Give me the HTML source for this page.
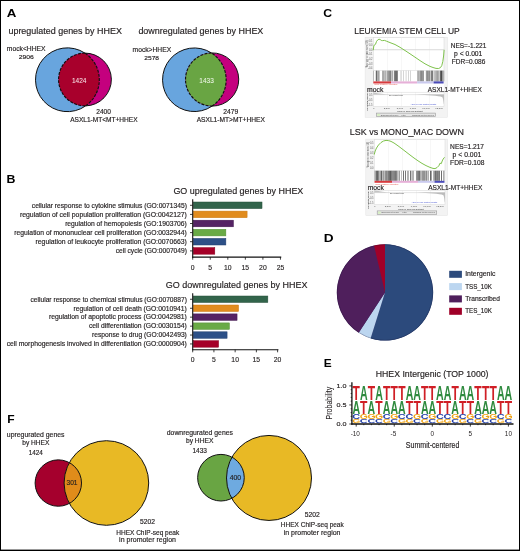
<!DOCTYPE html>
<html><head><meta charset="utf-8"><style>
html,body{margin:0;padding:0;background:#fff;}
#fig{position:relative;width:520px;height:551px;overflow:hidden;background:#fff;}
#fig svg{position:absolute;left:0;top:0;}
#fig text{font-family:"Liberation Sans", sans-serif;}
#fig svg{will-change:transform;}
</style></head><body><div id="fig">
<svg width="520" height="551" viewBox="0 0 520 551">
<rect x="0" y="0" width="520" height="551" fill="#fff"/>
<text x="6.84" y="16.70" font-size="11.5" font-weight="bold" fill="#000" textLength="9.62" lengthAdjust="spacingAndGlyphs" >A</text>
<text x="6.54" y="183.00" font-size="11.5" font-weight="bold" fill="#000" textLength="8.92" lengthAdjust="spacingAndGlyphs" >B</text>
<text x="323.34" y="17.30" font-size="11.5" font-weight="bold" fill="#000" textLength="8.82" lengthAdjust="spacingAndGlyphs" >C</text>
<text x="323.74" y="241.50" font-size="11.5" font-weight="bold" fill="#000" textLength="9.82" lengthAdjust="spacingAndGlyphs" >D</text>
<text x="323.74" y="366.90" font-size="11.5" font-weight="bold" fill="#000" textLength="7.92" lengthAdjust="spacingAndGlyphs" >E</text>
<text x="7.19" y="422.80" font-size="11.5" font-weight="bold" fill="#000" textLength="7.37" lengthAdjust="spacingAndGlyphs" >F</text>
<text x="8.44" y="33.90" font-size="9" font-weight="normal" fill="#231f20" textLength="113.42" lengthAdjust="spacingAndGlyphs"  stroke="#231f20" stroke-width="0.16">upregulated genes by HHEX</text>
<text x="138.39" y="33.80" font-size="9" font-weight="normal" fill="#231f20" textLength="124.97" lengthAdjust="spacingAndGlyphs"  stroke="#231f20" stroke-width="0.16">downregulated genes by HHEX</text>
<circle cx="67.4" cy="79.75" r="31.9" fill="#68a5de"/>
<circle cx="84.9" cy="79.5" r="26.4" fill="#c4007e"/>
<path d="M84.93,53.10 A26.4,26.4 0 1 0 85.69,105.89 A31.9,31.9 0 0 0 84.93,53.10 Z" fill="#a8002c"/>
<path d="M84.93,53.10 A31.9,31.9 0 1 0 85.69,105.89" fill="none" stroke="#111" stroke-width="1.0"/>
<path d="M85.69,105.89 A26.4,26.4 0 0 0 84.93,53.10" fill="none" stroke="#111" stroke-width="1.0"/>
<path d="M84.93,53.10 A26.4,26.4 0 1 0 85.69,105.89" fill="none" stroke="#111" stroke-dasharray="2.9,1.3" stroke-width="1.15"/>
<path d="M85.69,105.89 A31.9,31.9 0 0 0 84.93,53.10" fill="none" stroke="#111" stroke-dasharray="2.9,1.3" stroke-width="1.15"/>
<circle cx="194.35" cy="79.75" r="31.8" fill="#68a5de"/>
<circle cx="212.1" cy="79.5" r="26.6" fill="#c4007e"/>
<path d="M211.40,52.91 A26.6,26.6 0 0 0 212.15,106.10 A31.8,31.8 0 0 0 211.40,52.91 Z" fill="#69a543"/>
<path d="M211.40,52.91 A31.8,31.8 0 1 0 212.15,106.10" fill="none" stroke="#111" stroke-width="1.0"/>
<path d="M212.15,106.10 A26.6,26.6 0 1 0 211.40,52.91" fill="none" stroke="#111" stroke-width="1.0"/>
<path d="M211.40,52.91 A26.6,26.6 0 0 0 212.15,106.10" fill="none" stroke="#111" stroke-dasharray="2.9,1.3" stroke-width="1.15"/>
<path d="M212.15,106.10 A31.8,31.8 0 0 0 211.40,52.91" fill="none" stroke="#111" stroke-dasharray="2.9,1.3" stroke-width="1.15"/>
<text x="6.84" y="50.85" font-size="6.4" font-weight="normal" fill="#231f20" textLength="38.71" lengthAdjust="spacingAndGlyphs"  stroke="#231f20" stroke-width="0.16">mock&lt;HHEX</text>
<text x="18.65" y="58.60" font-size="6.2" font-weight="normal" fill="#231f20" textLength="15.00" lengthAdjust="spacingAndGlyphs"  stroke="#231f20" stroke-width="0.16">2906</text>
<text x="132.64" y="51.90" font-size="6.4" font-weight="normal" fill="#231f20" textLength="38.51" lengthAdjust="spacingAndGlyphs"  stroke="#231f20" stroke-width="0.16">mock&gt;HHEX</text>
<text x="144.35" y="60.10" font-size="6.2" font-weight="normal" fill="#231f20" textLength="14.70" lengthAdjust="spacingAndGlyphs"  stroke="#231f20" stroke-width="0.16">2578</text>
<text x="71.93" y="82.70" font-size="6.8" font-weight="normal" fill="#f6dfe4" textLength="14.54" lengthAdjust="spacingAndGlyphs"  stroke="#f6dfe4" stroke-width="0.05">1424</text>
<text x="199.33" y="82.80" font-size="6.8" font-weight="normal" fill="#eef6e8" textLength="14.44" lengthAdjust="spacingAndGlyphs"  stroke="#eef6e8" stroke-width="0.05">1433</text>
<text x="96.25" y="113.80" font-size="6.3" font-weight="normal" fill="#231f20" textLength="14.70" lengthAdjust="spacingAndGlyphs"  stroke="#231f20" stroke-width="0.16">2400</text>
<text x="70.15" y="121.90" font-size="6.3" font-weight="normal" fill="#231f20" textLength="67.40" lengthAdjust="spacingAndGlyphs"  stroke="#231f20" stroke-width="0.16">ASXL1-MT&lt;MT+HHEX</text>
<text x="223.25" y="113.80" font-size="6.3" font-weight="normal" fill="#231f20" textLength="15.00" lengthAdjust="spacingAndGlyphs"  stroke="#231f20" stroke-width="0.16">2479</text>
<text x="196.65" y="121.80" font-size="6.3" font-weight="normal" fill="#231f20" textLength="68.20" lengthAdjust="spacingAndGlyphs"  stroke="#231f20" stroke-width="0.16">ASXL1-MT&gt;MT+HHEX</text>
<text x="173.39" y="193.90" font-size="9" font-weight="normal" fill="#231f20" textLength="129.97" lengthAdjust="spacingAndGlyphs"  stroke="#231f20" stroke-width="0.16">GO upregulated genes by HHEX</text>
<text x="31.83" y="207.55" font-size="6.8" font-weight="normal" fill="#231f20" textLength="155.04" lengthAdjust="spacingAndGlyphs"  stroke="#231f20" stroke-width="0.16">cellular response to cytokine stimulus (GO:0071345)</text>
<rect x="193.20" y="202.00" width="68.82" height="6.6" fill="#32644b" stroke="#264f3a" stroke-width="0.5"/>
<line x1="190.00" x2="192.70" y1="205.30" y2="205.30" stroke="#111" stroke-width="0.8"/>
<text x="19.93" y="216.65" font-size="6.8" font-weight="normal" fill="#231f20" textLength="166.94" lengthAdjust="spacingAndGlyphs"  stroke="#231f20" stroke-width="0.16">regulation of cell population proliferation (GO:0042127)</text>
<rect x="193.20" y="211.10" width="53.90" height="6.6" fill="#e18c1e" stroke="#c97a14" stroke-width="0.5"/>
<line x1="190.00" x2="192.70" y1="214.40" y2="214.40" stroke="#111" stroke-width="0.8"/>
<text x="65.13" y="225.75" font-size="6.8" font-weight="normal" fill="#231f20" textLength="121.74" lengthAdjust="spacingAndGlyphs"  stroke="#231f20" stroke-width="0.16">regulation of hemopoiesis (GO:1903706)</text>
<rect x="193.20" y="220.20" width="40.22" height="6.6" fill="#552364" stroke="#43184f" stroke-width="0.5"/>
<line x1="190.00" x2="192.70" y1="223.50" y2="223.50" stroke="#111" stroke-width="0.8"/>
<text x="14.33" y="234.85" font-size="6.8" font-weight="normal" fill="#231f20" textLength="172.54" lengthAdjust="spacingAndGlyphs"  stroke="#231f20" stroke-width="0.16">regulation of mononuclear cell proliferation (GO:0032944)</text>
<rect x="193.20" y="229.30" width="32.67" height="6.6" fill="#69aa46" stroke="#558f36" stroke-width="0.5"/>
<line x1="190.00" x2="192.70" y1="232.60" y2="232.60" stroke="#111" stroke-width="0.8"/>
<text x="35.53" y="243.95" font-size="6.8" font-weight="normal" fill="#231f20" textLength="151.34" lengthAdjust="spacingAndGlyphs"  stroke="#231f20" stroke-width="0.16">regulation of leukocyte proliferation (GO:0070663)</text>
<rect x="193.20" y="238.40" width="32.67" height="6.6" fill="#2d5087" stroke="#223f6e" stroke-width="0.5"/>
<line x1="190.00" x2="192.70" y1="241.70" y2="241.70" stroke="#111" stroke-width="0.8"/>
<text x="115.73" y="253.15" font-size="6.8" font-weight="normal" fill="#231f20" textLength="71.14" lengthAdjust="spacingAndGlyphs"  stroke="#231f20" stroke-width="0.16">cell cycle (GO:0007049)</text>
<rect x="193.20" y="247.60" width="21.61" height="6.6" fill="#a50028" stroke="#8a0020" stroke-width="0.5"/>
<line x1="190.00" x2="192.70" y1="250.90" y2="250.90" stroke="#111" stroke-width="0.8"/>
<line x1="192.70" x2="192.70" y1="199.20" y2="257.70" stroke="#111" stroke-width="1.1"/>
<line x1="192.20" x2="281.25" y1="257.10" y2="257.10" stroke="#111" stroke-width="1.1"/>
<line x1="192.70" x2="192.70" y1="257.10" y2="259.70" stroke="#111" stroke-width="0.8"/>
<text x="192.70" y="269.60" font-size="6.8" fill="#231f20" stroke="#231f20" stroke-width="0.14" text-anchor="middle">0</text>
<line x1="210.25" x2="210.25" y1="257.10" y2="259.70" stroke="#111" stroke-width="0.8"/>
<text x="210.25" y="269.60" font-size="6.8" fill="#231f20" stroke="#231f20" stroke-width="0.14" text-anchor="middle">5</text>
<line x1="227.80" x2="227.80" y1="257.10" y2="259.70" stroke="#111" stroke-width="0.8"/>
<text x="227.80" y="269.60" font-size="6.8" fill="#231f20" stroke="#231f20" stroke-width="0.14" text-anchor="middle">10</text>
<line x1="245.35" x2="245.35" y1="257.10" y2="259.70" stroke="#111" stroke-width="0.8"/>
<text x="245.35" y="269.60" font-size="6.8" fill="#231f20" stroke="#231f20" stroke-width="0.14" text-anchor="middle">15</text>
<line x1="262.90" x2="262.90" y1="257.10" y2="259.70" stroke="#111" stroke-width="0.8"/>
<text x="262.90" y="269.60" font-size="6.8" fill="#231f20" stroke="#231f20" stroke-width="0.14" text-anchor="middle">20</text>
<line x1="280.45" x2="280.45" y1="257.10" y2="259.70" stroke="#111" stroke-width="0.8"/>
<text x="280.45" y="269.60" font-size="6.8" fill="#231f20" stroke="#231f20" stroke-width="0.14" text-anchor="middle">25</text>
<text x="165.69" y="288.05" font-size="9" font-weight="normal" fill="#231f20" textLength="141.87" lengthAdjust="spacingAndGlyphs"  stroke="#231f20" stroke-width="0.16">GO downregulated genes by HHEX</text>
<text x="30.53" y="301.50" font-size="6.8" font-weight="normal" fill="#231f20" textLength="156.34" lengthAdjust="spacingAndGlyphs"  stroke="#231f20" stroke-width="0.16">cellular response to chemical stimulus (GO:0070887)</text>
<rect x="193.20" y="296.00" width="74.64" height="6.5" fill="#32644b" stroke="#264f3a" stroke-width="0.5"/>
<line x1="190.00" x2="192.70" y1="299.25" y2="299.25" stroke="#111" stroke-width="0.8"/>
<text x="73.53" y="310.50" font-size="6.8" font-weight="normal" fill="#231f20" textLength="113.34" lengthAdjust="spacingAndGlyphs"  stroke="#231f20" stroke-width="0.16">regulation of cell death (GO:0010941)</text>
<rect x="193.20" y="305.00" width="45.35" height="6.5" fill="#e18c1e" stroke="#c97a14" stroke-width="0.5"/>
<line x1="190.00" x2="192.70" y1="308.25" y2="308.25" stroke="#111" stroke-width="0.8"/>
<text x="48.93" y="319.40" font-size="6.8" font-weight="normal" fill="#231f20" textLength="137.94" lengthAdjust="spacingAndGlyphs"  stroke="#231f20" stroke-width="0.16">regulation of apoptotic process (GO:0042981)</text>
<rect x="193.20" y="313.90" width="43.86" height="6.5" fill="#552364" stroke="#43184f" stroke-width="0.5"/>
<line x1="190.00" x2="192.70" y1="317.15" y2="317.15" stroke="#111" stroke-width="0.8"/>
<text x="88.93" y="328.40" font-size="6.8" font-weight="normal" fill="#231f20" textLength="97.94" lengthAdjust="spacingAndGlyphs"  stroke="#231f20" stroke-width="0.16">cell differentiation (GO:0030154)</text>
<rect x="193.20" y="322.90" width="36.22" height="6.5" fill="#69aa46" stroke="#558f36" stroke-width="0.5"/>
<line x1="190.00" x2="192.70" y1="326.15" y2="326.15" stroke="#111" stroke-width="0.8"/>
<text x="92.03" y="337.30" font-size="6.8" font-weight="normal" fill="#231f20" textLength="94.84" lengthAdjust="spacingAndGlyphs"  stroke="#231f20" stroke-width="0.16">response to drug (GO:0042493)</text>
<rect x="193.20" y="331.80" width="33.88" height="6.5" fill="#2d5087" stroke="#223f6e" stroke-width="0.5"/>
<line x1="190.00" x2="192.70" y1="335.05" y2="335.05" stroke="#111" stroke-width="0.8"/>
<text x="6.63" y="346.20" font-size="6.8" font-weight="normal" fill="#231f20" textLength="180.24" lengthAdjust="spacingAndGlyphs"  stroke="#231f20" stroke-width="0.16">cell morphogenesis involved in differentiation (GO:0000904)</text>
<rect x="193.20" y="340.70" width="25.39" height="6.5" fill="#a50028" stroke="#8a0020" stroke-width="0.5"/>
<line x1="190.00" x2="192.70" y1="343.95" y2="343.95" stroke="#111" stroke-width="0.8"/>
<line x1="192.70" x2="192.70" y1="293.20" y2="350.30" stroke="#111" stroke-width="1.1"/>
<line x1="192.20" x2="278.40" y1="349.70" y2="349.70" stroke="#111" stroke-width="1.1"/>
<line x1="192.70" x2="192.70" y1="349.70" y2="352.30" stroke="#111" stroke-width="0.8"/>
<text x="192.70" y="362.20" font-size="6.8" fill="#231f20" stroke="#231f20" stroke-width="0.14" text-anchor="middle">0</text>
<line x1="213.92" x2="213.92" y1="349.70" y2="352.30" stroke="#111" stroke-width="0.8"/>
<text x="213.92" y="362.20" font-size="6.8" fill="#231f20" stroke="#231f20" stroke-width="0.14" text-anchor="middle">5</text>
<line x1="235.15" x2="235.15" y1="349.70" y2="352.30" stroke="#111" stroke-width="0.8"/>
<text x="235.15" y="362.20" font-size="6.8" fill="#231f20" stroke="#231f20" stroke-width="0.14" text-anchor="middle">10</text>
<line x1="256.38" x2="256.38" y1="349.70" y2="352.30" stroke="#111" stroke-width="0.8"/>
<text x="256.38" y="362.20" font-size="6.8" fill="#231f20" stroke="#231f20" stroke-width="0.14" text-anchor="middle">15</text>
<line x1="277.60" x2="277.60" y1="349.70" y2="352.30" stroke="#111" stroke-width="0.8"/>
<text x="277.60" y="362.20" font-size="6.8" fill="#231f20" stroke="#231f20" stroke-width="0.14" text-anchor="middle">20</text>
<circle cx="385" cy="292.45" r="47.85" fill="#3a2f6a"/>
<path d="M385,292.45 L385.00,244.30 A48.15,48.15 0 1 1 370.60,338.40 Z" fill="#2c4a7c"/>
<path d="M385,292.45 L370.60,338.40 A48.15,48.15 0 0 1 358.71,332.79 Z" fill="#bcd6f0"/>
<path d="M385,292.45 L358.71,332.79 A48.15,48.15 0 0 1 373.96,245.58 Z" fill="#4f1f5c"/>
<path d="M385,292.45 L373.96,245.58 A48.15,48.15 0 0 1 385.00,244.30 Z" fill="#a00028"/>
<circle cx="385" cy="292.45" r="47.85" fill="none" stroke="rgba(10,10,40,0.35)" stroke-width="0.6"/>
<rect x="449.2" y="270.8" width="12.7" height="7" fill="#2c4a7c"/>
<text x="465.23" y="276.30" font-size="6.8" font-weight="normal" fill="#231f20" textLength="30.14" lengthAdjust="spacingAndGlyphs"  stroke="#231f20" stroke-width="0.16">Intergenic</text>
<rect x="449.2" y="283.1" width="12.7" height="7" fill="#bcd6f0"/>
<text x="465.23" y="288.60" font-size="6.8" font-weight="normal" fill="#231f20" textLength="26.74" lengthAdjust="spacingAndGlyphs"  stroke="#231f20" stroke-width="0.16">TSS_10K</text>
<rect x="449.2" y="295.4" width="12.7" height="7" fill="#4f1f5c"/>
<text x="465.23" y="300.90" font-size="6.8" font-weight="normal" fill="#231f20" textLength="34.74" lengthAdjust="spacingAndGlyphs"  stroke="#231f20" stroke-width="0.16">Transcribed</text>
<rect x="449.2" y="307.8" width="12.7" height="7" fill="#a00028"/>
<text x="465.23" y="313.30" font-size="6.8" font-weight="normal" fill="#231f20" textLength="26.74" lengthAdjust="spacingAndGlyphs"  stroke="#231f20" stroke-width="0.16">TES_10K</text>
<text x="354.26" y="33.75" font-size="8.6" font-weight="normal" fill="#231f20" textLength="105.49" lengthAdjust="spacingAndGlyphs"  stroke="#231f20" stroke-width="0.16">LEUKEMIA STEM CELL UP</text>
<text x="349.86" y="134.70" font-size="8.6" font-weight="normal" fill="#231f20" textLength="114.09" lengthAdjust="spacingAndGlyphs"  stroke="#231f20" stroke-width="0.16">LSK vs MONO_MAC DOWN</text>
<text x="450.74" y="47.80" font-size="6.6" font-weight="normal" fill="#231f20" textLength="35.63" lengthAdjust="spacingAndGlyphs"  stroke="#231f20" stroke-width="0.16">NES=-1.221</text>
<text x="454.14" y="55.90" font-size="6.6" font-weight="normal" fill="#231f20" textLength="28.23" lengthAdjust="spacingAndGlyphs"  stroke="#231f20" stroke-width="0.16">p &lt; 0.001</text>
<text x="451.84" y="63.60" font-size="6.6" font-weight="normal" fill="#231f20" textLength="33.43" lengthAdjust="spacingAndGlyphs"  stroke="#231f20" stroke-width="0.16">FDR=0.086</text>
<text x="450.14" y="149.40" font-size="6.6" font-weight="normal" fill="#231f20" textLength="33.93" lengthAdjust="spacingAndGlyphs"  stroke="#231f20" stroke-width="0.16">NES=1.217</text>
<text x="452.64" y="157.30" font-size="6.6" font-weight="normal" fill="#231f20" textLength="28.63" lengthAdjust="spacingAndGlyphs"  stroke="#231f20" stroke-width="0.16">p &lt; 0.001</text>
<text x="450.14" y="165.20" font-size="6.6" font-weight="normal" fill="#231f20" textLength="34.23" lengthAdjust="spacingAndGlyphs"  stroke="#231f20" stroke-width="0.16">FDR=0.108</text>
<rect x="365.1" y="37.2" width="82.29999999999995" height="80.1" fill="#f3f3f3" stroke="#e2e2e2" stroke-width="0.5"/>
<rect x="373.3" y="37.6" width="70.69999999999999" height="68.80000000000001" fill="#fff"/>
<rect x="373.3" y="37.6" width="70.69999999999999" height="33.1" fill="none" stroke="#d6d6d6" stroke-width="0.5"/>
<line x1="387.5" x2="387.5" y1="37.6" y2="70.7" stroke="#efefef" stroke-width="0.5"/>
<line x1="387.5" x2="387.5" y1="92.2" y2="106.4" stroke="#efefef" stroke-width="0.5"/>
<line x1="401.5" x2="401.5" y1="37.6" y2="70.7" stroke="#efefef" stroke-width="0.5"/>
<line x1="401.5" x2="401.5" y1="92.2" y2="106.4" stroke="#efefef" stroke-width="0.5"/>
<line x1="415.5" x2="415.5" y1="37.6" y2="70.7" stroke="#efefef" stroke-width="0.5"/>
<line x1="415.5" x2="415.5" y1="92.2" y2="106.4" stroke="#efefef" stroke-width="0.5"/>
<line x1="429.5" x2="429.5" y1="37.6" y2="70.7" stroke="#efefef" stroke-width="0.5"/>
<line x1="429.5" x2="429.5" y1="92.2" y2="106.4" stroke="#efefef" stroke-width="0.5"/>
<line x1="373.3" x2="444.0" y1="49.8" y2="49.8" stroke="#d9d9d9" stroke-width="1.1"/>
<text x="372.5" y="41.5" font-size="2.6" fill="#666" text-anchor="end">0.1</text>
<text x="372.5" y="46.1" font-size="2.6" fill="#666" text-anchor="end">0.0</text>
<text x="372.5" y="50.699999999999996" font-size="2.6" fill="#666" text-anchor="end">0.0</text>
<text x="372.5" y="55.3" font-size="2.6" fill="#666" text-anchor="end">-0.1</text>
<text x="372.5" y="59.9" font-size="2.6" fill="#666" text-anchor="end">-0.2</text>
<text x="372.5" y="64.5" font-size="2.6" fill="#666" text-anchor="end">-0.3</text>
<text x="372.5" y="69.10000000000001" font-size="2.6" fill="#666" text-anchor="end">-0.4</text>
<text transform="translate(368.0,67.70) rotate(-90)" font-size="2.7" fill="#333" textLength="27.10" lengthAdjust="spacingAndGlyphs">Running enrichment score (ES)</text>
<path d="M373.3,49.8 L373.8,46 L374.5,44.8 L375.5,44.3 L376.5,41.5 L377.8,39.8 L379,39.2 L380.2,39.5 L381.2,40.4 L382.5,40.6 L384.5,40.4 L386.5,41.2 L390,42.6 L395,44.5 L400,47.3 L405,50.5 L410,53.8 L415,57.2 L420,60.6 L425,63.8 L430,66.4 L433,67.5 L436,68.4 L438.5,68.5 L440.5,67.6 L441.8,65.5 L442.8,61.5 L443.6,56 L444.1,50.2" fill="none" stroke="#77bf42" stroke-width="0.95" stroke-linejoin="round" stroke-linecap="round"/>
<rect x="373.20" y="70.7" width="0.60" height="10.700000000000003" fill="rgb(150,150,150)"/>
<rect x="373.80" y="70.7" width="0.10" height="10.700000000000003" fill="rgb(168,168,168)"/>
<rect x="375.00" y="70.7" width="0.50" height="10.700000000000003" fill="rgb(190,190,190)"/>
<rect x="376.10" y="70.7" width="0.60" height="10.700000000000003" fill="rgb(25,25,25)"/>
<rect x="376.70" y="70.7" width="0.10" height="10.700000000000003" fill="rgb(43,43,43)"/>
<rect x="376.80" y="70.7" width="0.60" height="10.700000000000003" fill="rgb(90,90,90)"/>
<rect x="377.80" y="70.7" width="0.60" height="10.700000000000003" fill="rgb(120,120,120)"/>
<rect x="378.40" y="70.7" width="0.60" height="10.700000000000003" fill="rgb(138,138,138)"/>
<rect x="379.00" y="70.7" width="0.60" height="10.700000000000003" fill="rgb(165,165,165)"/>
<rect x="379.60" y="70.7" width="0.10" height="10.700000000000003" fill="rgb(183,183,183)"/>
<rect x="382.00" y="70.7" width="0.60" height="10.700000000000003" fill="rgb(140,140,140)"/>
<rect x="382.60" y="70.7" width="0.60" height="10.700000000000003" fill="rgb(158,158,158)"/>
<rect x="383.20" y="70.7" width="0.60" height="10.700000000000003" fill="rgb(126,126,126)"/>
<rect x="384.00" y="70.7" width="0.60" height="10.700000000000003" fill="rgb(160,160,160)"/>
<rect x="384.60" y="70.7" width="0.60" height="10.700000000000003" fill="rgb(178,178,178)"/>
<rect x="385.20" y="70.7" width="0.60" height="10.700000000000003" fill="rgb(146,146,146)"/>
<rect x="385.80" y="70.7" width="0.60" height="10.700000000000003" fill="rgb(160,160,160)"/>
<rect x="386.40" y="70.7" width="0.20" height="10.700000000000003" fill="rgb(178,178,178)"/>
<rect x="387.00" y="70.7" width="0.60" height="10.700000000000003" fill="rgb(125,125,125)"/>
<rect x="387.60" y="70.7" width="0.60" height="10.700000000000003" fill="rgb(143,143,143)"/>
<rect x="388.20" y="70.7" width="0.60" height="10.700000000000003" fill="rgb(111,111,111)"/>
<rect x="388.80" y="70.7" width="0.50" height="10.700000000000003" fill="rgb(125,125,125)"/>
<rect x="389.40" y="70.7" width="0.60" height="10.700000000000003" fill="rgb(90,90,90)"/>
<rect x="390.00" y="70.7" width="0.60" height="10.700000000000003" fill="rgb(108,108,108)"/>
<rect x="390.60" y="70.7" width="0.40" height="10.700000000000003" fill="rgb(76,76,76)"/>
<rect x="391.50" y="70.7" width="0.60" height="10.700000000000003" fill="rgb(130,130,130)"/>
<rect x="392.10" y="70.7" width="0.60" height="10.700000000000003" fill="rgb(148,148,148)"/>
<rect x="392.70" y="70.7" width="0.20" height="10.700000000000003" fill="rgb(116,116,116)"/>
<rect x="393.90" y="70.7" width="0.60" height="10.700000000000003" fill="rgb(75,75,75)"/>
<rect x="394.50" y="70.7" width="0.60" height="10.700000000000003" fill="rgb(93,93,93)"/>
<rect x="395.10" y="70.7" width="0.40" height="10.700000000000003" fill="rgb(61,61,61)"/>
<rect x="395.50" y="70.7" width="0.60" height="10.700000000000003" fill="rgb(55,55,55)"/>
<rect x="396.10" y="70.7" width="0.60" height="10.700000000000003" fill="rgb(73,73,73)"/>
<rect x="396.70" y="70.7" width="0.60" height="10.700000000000003" fill="rgb(41,41,41)"/>
<rect x="397.30" y="70.7" width="0.40" height="10.700000000000003" fill="rgb(55,55,55)"/>
<rect x="400.00" y="70.7" width="0.50" height="10.700000000000003" fill="rgb(200,200,200)"/>
<rect x="401.00" y="70.7" width="0.50" height="10.700000000000003" fill="rgb(190,190,190)"/>
<rect x="403.20" y="70.7" width="0.50" height="10.700000000000003" fill="rgb(170,170,170)"/>
<rect x="405.80" y="70.7" width="0.50" height="10.700000000000003" fill="rgb(170,170,170)"/>
<rect x="408.20" y="70.7" width="0.50" height="10.700000000000003" fill="rgb(170,170,170)"/>
<rect x="410.40" y="70.7" width="0.50" height="10.700000000000003" fill="rgb(170,170,170)"/>
<rect x="417.10" y="70.7" width="0.60" height="10.700000000000003" fill="rgb(150,150,150)"/>
<rect x="417.70" y="70.7" width="0.60" height="10.700000000000003" fill="rgb(168,168,168)"/>
<rect x="418.30" y="70.7" width="0.60" height="10.700000000000003" fill="rgb(136,136,136)"/>
<rect x="418.90" y="70.7" width="0.60" height="10.700000000000003" fill="rgb(150,150,150)"/>
<rect x="419.50" y="70.7" width="0.50" height="10.700000000000003" fill="rgb(168,168,168)"/>
<rect x="420.00" y="70.7" width="0.60" height="10.700000000000003" fill="rgb(105,105,105)"/>
<rect x="420.60" y="70.7" width="0.60" height="10.700000000000003" fill="rgb(123,123,123)"/>
<rect x="421.20" y="70.7" width="0.60" height="10.700000000000003" fill="rgb(91,91,91)"/>
<rect x="421.80" y="70.7" width="0.60" height="10.700000000000003" fill="rgb(105,105,105)"/>
<rect x="422.40" y="70.7" width="0.60" height="10.700000000000003" fill="rgb(123,123,123)"/>
<rect x="423.00" y="70.7" width="0.60" height="10.700000000000003" fill="rgb(91,91,91)"/>
<rect x="423.60" y="70.7" width="0.10" height="10.700000000000003" fill="rgb(105,105,105)"/>
<rect x="425.90" y="70.7" width="0.60" height="10.700000000000003" fill="rgb(110,110,110)"/>
<rect x="426.50" y="70.7" width="0.60" height="10.700000000000003" fill="rgb(128,128,128)"/>
<rect x="427.10" y="70.7" width="0.60" height="10.700000000000003" fill="rgb(96,96,96)"/>
<rect x="427.70" y="70.7" width="0.60" height="10.700000000000003" fill="rgb(110,110,110)"/>
<rect x="428.30" y="70.7" width="0.60" height="10.700000000000003" fill="rgb(128,128,128)"/>
<rect x="428.90" y="70.7" width="0.60" height="10.700000000000003" fill="rgb(96,96,96)"/>
<rect x="429.50" y="70.7" width="0.50" height="10.700000000000003" fill="rgb(110,110,110)"/>
<rect x="430.70" y="70.7" width="0.60" height="10.700000000000003" fill="rgb(75,75,75)"/>
<rect x="431.30" y="70.7" width="0.60" height="10.700000000000003" fill="rgb(93,93,93)"/>
<rect x="431.90" y="70.7" width="0.60" height="10.700000000000003" fill="rgb(61,61,61)"/>
<rect x="432.50" y="70.7" width="0.40" height="10.700000000000003" fill="rgb(75,75,75)"/>
<rect x="433.60" y="70.7" width="0.60" height="10.700000000000003" fill="rgb(165,165,165)"/>
<rect x="434.20" y="70.7" width="0.60" height="10.700000000000003" fill="rgb(183,183,183)"/>
<rect x="434.80" y="70.7" width="0.60" height="10.700000000000003" fill="rgb(151,151,151)"/>
<rect x="435.40" y="70.7" width="0.60" height="10.700000000000003" fill="rgb(165,165,165)"/>
<rect x="436.00" y="70.7" width="0.60" height="10.700000000000003" fill="rgb(135,135,135)"/>
<rect x="436.60" y="70.7" width="0.60" height="10.700000000000003" fill="rgb(153,153,153)"/>
<rect x="437.20" y="70.7" width="0.60" height="10.700000000000003" fill="rgb(121,121,121)"/>
<rect x="437.80" y="70.7" width="0.60" height="10.700000000000003" fill="rgb(135,135,135)"/>
<rect x="438.40" y="70.7" width="0.60" height="10.700000000000003" fill="rgb(153,153,153)"/>
<rect x="439.00" y="70.7" width="0.40" height="10.700000000000003" fill="rgb(121,121,121)"/>
<rect x="440.20" y="70.7" width="0.60" height="10.700000000000003" fill="rgb(25,25,25)"/>
<rect x="440.80" y="70.7" width="0.60" height="10.700000000000003" fill="rgb(43,43,43)"/>
<rect x="441.40" y="70.7" width="0.60" height="10.700000000000003" fill="rgb(11,11,11)"/>
<rect x="442.00" y="70.7" width="0.40" height="10.700000000000003" fill="rgb(25,25,25)"/>
<rect x="442.70" y="70.7" width="0.60" height="10.700000000000003" fill="rgb(140,140,140)"/>
<rect x="443.30" y="70.7" width="0.60" height="10.700000000000003" fill="rgb(158,158,158)"/>
<rect x="443.90" y="70.7" width="0.30" height="10.700000000000003" fill="rgb(126,126,126)"/>
<rect x="373.3" y="81.4" width="17.70" height="2.0999999999999943" fill="#d83a3e"/>
<rect x="391.0" y="81.4" width="26.10" height="2.0999999999999943" fill="#e6b0d8"/>
<rect x="417.1" y="81.4" width="16.50" height="2.0999999999999943" fill="#cacaee"/>
<rect x="433.6" y="81.4" width="10.00" height="2.0999999999999943" fill="#4a4ab8"/>
<text x="374.1" y="85.4" font-size="2.2" fill="#e0403a" textLength="23.3" lengthAdjust="spacingAndGlyphs">'mock' (positively correlated)</text>
<rect x="373.3" y="92.2" width="70.69999999999999" height="14.200000000000003" fill="none" stroke="#d6d6d6" stroke-width="0.5"/>
<path d="M373.3,92.4 C378.956,93.2 383.90500000000003,94.3 390.26800000000003,94.6 L373.3,94.6 Z" fill="#c4c4c4"/>
<path d="M415.72,94.6 C428.446,95.1 438.344,95.8 442.4,97.19999999999999 C443.2,98.6 443.6,102.4 443.8,103.9 L444.0,103.9 L444.0,94.6 Z" fill="#bdbdbd"/>
<line x1="373.3" x2="444.0" y1="94.6" y2="94.6" stroke="#aaa" stroke-width="0.3"/>
<text x="388.9" y="96.19999999999999" font-size="2.2" fill="#333" textLength="14.1" lengthAdjust="spacingAndGlyphs">Zero cross at 6010</text>
<text x="410.8" y="104.80000000000001" font-size="2.3" fill="#2a3ac8" textLength="25.5" lengthAdjust="spacingAndGlyphs">'ASXL1-MT+HHEX' (negatively correlated)</text>
<text x="372.5" y="95.5" font-size="2.6" fill="#666" text-anchor="end">0.5</text>
<text x="372.5" y="101.10000000000001" font-size="2.6" fill="#666" text-anchor="end">-0.5</text>
<text x="372.5" y="106.30000000000001" font-size="2.6" fill="#666" text-anchor="end">-1.5</text>
<text transform="translate(368.0,110.40) rotate(-90)" font-size="2.3" fill="#333" textLength="18.20" lengthAdjust="spacingAndGlyphs">Ranked list metric (Signal2Noise)</text>
<text x="373.70" y="108.9" font-size="2.5" fill="#555" text-anchor="middle">0</text>
<text x="386.80" y="108.9" font-size="2.5" fill="#555" text-anchor="middle">2,500</text>
<text x="399.90" y="108.9" font-size="2.5" fill="#555" text-anchor="middle">5,000</text>
<text x="413.00" y="108.9" font-size="2.5" fill="#555" text-anchor="middle">7,500</text>
<text x="426.10" y="108.9" font-size="2.5" fill="#555" text-anchor="middle">10,000</text>
<text x="439.20" y="108.9" font-size="2.5" fill="#555" text-anchor="middle">12,500</text>
<text x="397.3" y="111.5" font-size="2.5" fill="#333" textLength="25.5" lengthAdjust="spacingAndGlyphs">Rank in Ordered Dataset</text>
<rect x="376.5" y="113.1" width="59.10000000000002" height="3.5" fill="#e6e6e6" stroke="#9a9a9a" stroke-width="0.6"/>
<rect x="377.3" y="113.8" width="2.6" height="2.1" fill="#d6f0c0"/>
<text x="380.7" y="115.5" font-size="2.2" fill="#555" textLength="17.7" lengthAdjust="spacingAndGlyphs">Enrichment profile</text>
<text x="401.3" y="115.5" font-size="2.2" fill="#555" textLength="4.1" lengthAdjust="spacingAndGlyphs">Hits</text>
<text x="412.0" y="115.5" font-size="2.2" fill="#555" textLength="21.9" lengthAdjust="spacingAndGlyphs">Ranking metric scores</text>
<rect x="365.8" y="139.1" width="81.80000000000001" height="76.5" fill="#f3f3f3" stroke="#e2e2e2" stroke-width="0.5"/>
<rect x="374.3" y="139.5" width="70.69999999999999" height="65.19999999999999" fill="#fff"/>
<rect x="374.3" y="139.5" width="70.69999999999999" height="31.30000000000001" fill="none" stroke="#d6d6d6" stroke-width="0.5"/>
<line x1="388.5" x2="388.5" y1="139.5" y2="170.8" stroke="#efefef" stroke-width="0.5"/>
<line x1="388.5" x2="388.5" y1="190.4" y2="204.7" stroke="#efefef" stroke-width="0.5"/>
<line x1="402.5" x2="402.5" y1="139.5" y2="170.8" stroke="#efefef" stroke-width="0.5"/>
<line x1="402.5" x2="402.5" y1="190.4" y2="204.7" stroke="#efefef" stroke-width="0.5"/>
<line x1="416.5" x2="416.5" y1="139.5" y2="170.8" stroke="#efefef" stroke-width="0.5"/>
<line x1="416.5" x2="416.5" y1="190.4" y2="204.7" stroke="#efefef" stroke-width="0.5"/>
<line x1="430.5" x2="430.5" y1="139.5" y2="170.8" stroke="#efefef" stroke-width="0.5"/>
<line x1="430.5" x2="430.5" y1="190.4" y2="204.7" stroke="#efefef" stroke-width="0.5"/>
<text x="373.5" y="144.1" font-size="2.6" fill="#666" text-anchor="end">0.5</text>
<text x="373.5" y="149.0" font-size="2.6" fill="#666" text-anchor="end">0.4</text>
<text x="373.5" y="153.9" font-size="2.6" fill="#666" text-anchor="end">0.3</text>
<text x="373.5" y="158.8" font-size="2.6" fill="#666" text-anchor="end">0.2</text>
<text x="373.5" y="163.70000000000002" font-size="2.6" fill="#666" text-anchor="end">0.1</text>
<text x="373.5" y="168.6" font-size="2.6" fill="#666" text-anchor="end">0.0</text>
<text transform="translate(368.7,167.80) rotate(-90)" font-size="2.7" fill="#333" textLength="25.30" lengthAdjust="spacingAndGlyphs">Running enrichment score (ES)</text>
<path d="M374.3,154.2 L375.2,151 L376.5,148 L378.5,145 L381,142.5 L383.5,141 L386,140.4 L388.5,140.6 L391,141.4 L394,143 L398,145.8 L402,148.8 L406,151.9 L410,155 L414,158 L418,160.8 L422,163.4 L426,165.6 L430,167.4 L433,168.4 L435,168.6 L437,167.6 L438.8,165.8 L440,163.2 L441.3,163.6 L442.2,161 L443.2,159 L444.3,157.6" fill="none" stroke="#77bf42" stroke-width="0.95" stroke-linejoin="round" stroke-linecap="round"/>
<rect x="374.50" y="170.8" width="0.60" height="10.0" fill="rgb(136,136,136)"/>
<rect x="375.10" y="170.8" width="0.60" height="10.0" fill="rgb(154,154,154)"/>
<rect x="375.70" y="170.8" width="0.30" height="10.0" fill="rgb(122,122,122)"/>
<rect x="376.00" y="170.8" width="0.60" height="10.0" fill="rgb(56,56,56)"/>
<rect x="376.60" y="170.8" width="0.60" height="10.0" fill="rgb(74,74,74)"/>
<rect x="377.20" y="170.8" width="0.60" height="10.0" fill="rgb(42,42,42)"/>
<rect x="377.80" y="170.8" width="0.20" height="10.0" fill="rgb(56,56,56)"/>
<rect x="378.00" y="170.8" width="0.60" height="10.0" fill="rgb(88,88,88)"/>
<rect x="378.60" y="170.8" width="0.40" height="10.0" fill="rgb(106,106,106)"/>
<rect x="379.50" y="170.8" width="0.60" height="10.0" fill="rgb(112,112,112)"/>
<rect x="380.10" y="170.8" width="0.40" height="10.0" fill="rgb(130,130,130)"/>
<rect x="380.80" y="170.8" width="0.60" height="10.0" fill="rgb(40,40,40)"/>
<rect x="381.40" y="170.8" width="0.60" height="10.0" fill="rgb(58,58,58)"/>
<rect x="382.50" y="170.8" width="0.60" height="10.0" fill="rgb(120,120,120)"/>
<rect x="383.10" y="170.8" width="0.60" height="10.0" fill="rgb(138,138,138)"/>
<rect x="383.70" y="170.8" width="0.60" height="10.0" fill="rgb(106,106,106)"/>
<rect x="384.30" y="170.8" width="0.20" height="10.0" fill="rgb(120,120,120)"/>
<rect x="385.00" y="170.8" width="0.60" height="10.0" fill="rgb(104,104,104)"/>
<rect x="385.60" y="170.8" width="0.60" height="10.0" fill="rgb(122,122,122)"/>
<rect x="386.20" y="170.8" width="0.60" height="10.0" fill="rgb(90,90,90)"/>
<rect x="386.80" y="170.8" width="0.60" height="10.0" fill="rgb(104,104,104)"/>
<rect x="387.40" y="170.8" width="0.60" height="10.0" fill="rgb(122,122,122)"/>
<rect x="388.00" y="170.8" width="0.60" height="10.0" fill="rgb(72,72,72)"/>
<rect x="388.60" y="170.8" width="0.60" height="10.0" fill="rgb(90,90,90)"/>
<rect x="389.20" y="170.8" width="0.60" height="10.0" fill="rgb(58,58,58)"/>
<rect x="389.80" y="170.8" width="0.20" height="10.0" fill="rgb(72,72,72)"/>
<rect x="390.00" y="170.8" width="0.60" height="10.0" fill="rgb(32,32,32)"/>
<rect x="390.60" y="170.8" width="0.60" height="10.0" fill="rgb(50,50,50)"/>
<rect x="391.20" y="170.8" width="0.30" height="10.0" fill="rgb(18,18,18)"/>
<rect x="391.50" y="170.8" width="0.60" height="10.0" fill="rgb(96,96,96)"/>
<rect x="392.10" y="170.8" width="0.60" height="10.0" fill="rgb(114,114,114)"/>
<rect x="392.70" y="170.8" width="0.60" height="10.0" fill="rgb(82,82,82)"/>
<rect x="393.30" y="170.8" width="0.60" height="10.0" fill="rgb(96,96,96)"/>
<rect x="393.90" y="170.8" width="0.10" height="10.0" fill="rgb(114,114,114)"/>
<rect x="394.00" y="170.8" width="0.60" height="10.0" fill="rgb(80,80,80)"/>
<rect x="394.60" y="170.8" width="0.60" height="10.0" fill="rgb(98,98,98)"/>
<rect x="395.20" y="170.8" width="0.60" height="10.0" fill="rgb(66,66,66)"/>
<rect x="395.80" y="170.8" width="0.60" height="10.0" fill="rgb(80,80,80)"/>
<rect x="396.40" y="170.8" width="0.60" height="10.0" fill="rgb(98,98,98)"/>
<rect x="397.30" y="170.8" width="0.60" height="10.0" fill="rgb(136,136,136)"/>
<rect x="397.90" y="170.8" width="0.60" height="10.0" fill="rgb(154,154,154)"/>
<rect x="399.00" y="170.8" width="0.60" height="10.0" fill="rgb(120,120,120)"/>
<rect x="399.60" y="170.8" width="0.40" height="10.0" fill="rgb(138,138,138)"/>
<rect x="401.00" y="170.8" width="0.60" height="10.0" fill="rgb(160,160,160)"/>
<rect x="401.60" y="170.8" width="0.40" height="10.0" fill="rgb(178,178,178)"/>
<rect x="403.00" y="170.8" width="0.60" height="10.0" fill="rgb(64,64,64)"/>
<rect x="403.60" y="170.8" width="0.40" height="10.0" fill="rgb(82,82,82)"/>
<rect x="405.00" y="170.8" width="0.60" height="10.0" fill="rgb(72,72,72)"/>
<rect x="405.60" y="170.8" width="0.40" height="10.0" fill="rgb(90,90,90)"/>
<rect x="407.00" y="170.8" width="0.60" height="10.0" fill="rgb(144,144,144)"/>
<rect x="407.60" y="170.8" width="0.40" height="10.0" fill="rgb(162,162,162)"/>
<rect x="408.30" y="170.8" width="0.60" height="10.0" fill="rgb(136,136,136)"/>
<rect x="408.90" y="170.8" width="0.10" height="10.0" fill="rgb(154,154,154)"/>
<rect x="410.00" y="170.8" width="0.60" height="10.0" fill="rgb(64,64,64)"/>
<rect x="410.60" y="170.8" width="0.40" height="10.0" fill="rgb(82,82,82)"/>
<rect x="411.50" y="170.8" width="0.60" height="10.0" fill="rgb(152,152,152)"/>
<rect x="412.10" y="170.8" width="0.60" height="10.0" fill="rgb(170,170,170)"/>
<rect x="412.70" y="170.8" width="0.60" height="10.0" fill="rgb(138,138,138)"/>
<rect x="413.30" y="170.8" width="0.60" height="10.0" fill="rgb(152,152,152)"/>
<rect x="413.90" y="170.8" width="0.10" height="10.0" fill="rgb(170,170,170)"/>
<rect x="416.00" y="170.8" width="0.60" height="10.0" fill="rgb(104,104,104)"/>
<rect x="416.60" y="170.8" width="0.60" height="10.0" fill="rgb(122,122,122)"/>
<rect x="417.20" y="170.8" width="0.60" height="10.0" fill="rgb(90,90,90)"/>
<rect x="417.80" y="170.8" width="0.20" height="10.0" fill="rgb(104,104,104)"/>
<rect x="418.00" y="170.8" width="0.60" height="10.0" fill="rgb(72,72,72)"/>
<rect x="418.60" y="170.8" width="0.60" height="10.0" fill="rgb(90,90,90)"/>
<rect x="419.20" y="170.8" width="0.60" height="10.0" fill="rgb(58,58,58)"/>
<rect x="419.80" y="170.8" width="0.60" height="10.0" fill="rgb(72,72,72)"/>
<rect x="420.40" y="170.8" width="0.10" height="10.0" fill="rgb(90,90,90)"/>
<rect x="421.50" y="170.8" width="0.60" height="10.0" fill="rgb(112,112,112)"/>
<rect x="422.10" y="170.8" width="0.60" height="10.0" fill="rgb(130,130,130)"/>
<rect x="422.70" y="170.8" width="0.60" height="10.0" fill="rgb(98,98,98)"/>
<rect x="423.30" y="170.8" width="0.60" height="10.0" fill="rgb(112,112,112)"/>
<rect x="423.90" y="170.8" width="0.60" height="10.0" fill="rgb(130,130,130)"/>
<rect x="424.50" y="170.8" width="0.50" height="10.0" fill="rgb(98,98,98)"/>
<rect x="425.50" y="170.8" width="0.60" height="10.0" fill="rgb(96,96,96)"/>
<rect x="426.10" y="170.8" width="0.60" height="10.0" fill="rgb(114,114,114)"/>
<rect x="426.70" y="170.8" width="0.30" height="10.0" fill="rgb(82,82,82)"/>
<rect x="427.50" y="170.8" width="0.60" height="10.0" fill="rgb(144,144,144)"/>
<rect x="428.10" y="170.8" width="0.60" height="10.0" fill="rgb(162,162,162)"/>
<rect x="428.70" y="170.8" width="0.30" height="10.0" fill="rgb(130,130,130)"/>
<rect x="430.00" y="170.8" width="0.60" height="10.0" fill="rgb(48,48,48)"/>
<rect x="430.60" y="170.8" width="0.60" height="10.0" fill="rgb(66,66,66)"/>
<rect x="431.20" y="170.8" width="0.30" height="10.0" fill="rgb(34,34,34)"/>
<rect x="433.00" y="170.8" width="0.60" height="10.0" fill="rgb(144,144,144)"/>
<rect x="433.60" y="170.8" width="0.40" height="10.0" fill="rgb(162,162,162)"/>
<rect x="434.50" y="170.8" width="0.60" height="10.0" fill="rgb(56,56,56)"/>
<rect x="435.10" y="170.8" width="0.60" height="10.0" fill="rgb(74,74,74)"/>
<rect x="435.70" y="170.8" width="0.30" height="10.0" fill="rgb(42,42,42)"/>
<rect x="436.00" y="170.8" width="0.60" height="10.0" fill="rgb(88,88,88)"/>
<rect x="436.60" y="170.8" width="0.60" height="10.0" fill="rgb(106,106,106)"/>
<rect x="437.20" y="170.8" width="0.60" height="10.0" fill="rgb(74,74,74)"/>
<rect x="437.80" y="170.8" width="0.60" height="10.0" fill="rgb(88,88,88)"/>
<rect x="438.40" y="170.8" width="0.60" height="10.0" fill="rgb(106,106,106)"/>
<rect x="439.00" y="170.8" width="0.60" height="10.0" fill="rgb(74,74,74)"/>
<rect x="439.60" y="170.8" width="0.40" height="10.0" fill="rgb(88,88,88)"/>
<rect x="441.00" y="170.8" width="0.60" height="10.0" fill="rgb(56,56,56)"/>
<rect x="441.60" y="170.8" width="0.40" height="10.0" fill="rgb(74,74,74)"/>
<rect x="443.00" y="170.8" width="0.60" height="10.0" fill="rgb(136,136,136)"/>
<rect x="443.60" y="170.8" width="0.60" height="10.0" fill="rgb(154,154,154)"/>
<rect x="444.20" y="170.8" width="0.30" height="10.0" fill="rgb(122,122,122)"/>
<rect x="374.5" y="180.8" width="17.50" height="2.0" fill="#d83a3e"/>
<rect x="392.0" y="180.8" width="26.00" height="2.0" fill="#e6b0d8"/>
<rect x="418.0" y="180.8" width="16.50" height="2.0" fill="#cacaee"/>
<rect x="434.5" y="180.8" width="10.00" height="2.0" fill="#4a4ab8"/>
<text x="375.1" y="184.70000000000002" font-size="2.2" fill="#e0403a" textLength="23.3" lengthAdjust="spacingAndGlyphs">'mock' (positively correlated)</text>
<rect x="374.3" y="190.4" width="70.69999999999999" height="14.299999999999983" fill="none" stroke="#d6d6d6" stroke-width="0.5"/>
<path d="M374.3,190.6 C379.956,191.4 384.90500000000003,192.29999999999998 391.26800000000003,192.6 L374.3,192.6 Z" fill="#c4c4c4"/>
<path d="M416.72,192.6 C429.446,193.1 439.344,193.79999999999998 443.4,195.2 C444.2,196.6 444.6,200.7 444.8,202.2 L445.0,202.2 L445.0,192.6 Z" fill="#bdbdbd"/>
<line x1="374.3" x2="445.0" y1="192.6" y2="192.6" stroke="#aaa" stroke-width="0.3"/>
<text x="389.9" y="194.2" font-size="2.2" fill="#333" textLength="14.1" lengthAdjust="spacingAndGlyphs">Zero cross at 6010</text>
<text x="411.8" y="203.1" font-size="2.3" fill="#2a3ac8" textLength="25.5" lengthAdjust="spacingAndGlyphs">'ASXL1-MT+HHEX' (negatively correlated)</text>
<text x="373.5" y="193.70000000000002" font-size="2.6" fill="#666" text-anchor="end">0.5</text>
<text x="373.5" y="198.9" font-size="2.6" fill="#666" text-anchor="end">-0.5</text>
<text x="373.5" y="203.9" font-size="2.6" fill="#666" text-anchor="end">-1.5</text>
<text transform="translate(368.7,208.70) rotate(-90)" font-size="2.3" fill="#333" textLength="18.30" lengthAdjust="spacingAndGlyphs">Ranked list metric (Signal2Noise)</text>
<text x="374.70" y="206.9" font-size="2.5" fill="#555" text-anchor="middle">0</text>
<text x="387.80" y="206.9" font-size="2.5" fill="#555" text-anchor="middle">2,500</text>
<text x="400.90" y="206.9" font-size="2.5" fill="#555" text-anchor="middle">5,000</text>
<text x="414.00" y="206.9" font-size="2.5" fill="#555" text-anchor="middle">7,500</text>
<text x="427.10" y="206.9" font-size="2.5" fill="#555" text-anchor="middle">10,000</text>
<text x="440.20" y="206.9" font-size="2.5" fill="#555" text-anchor="middle">12,500</text>
<text x="398.3" y="209.6" font-size="2.5" fill="#333" textLength="25.5" lengthAdjust="spacingAndGlyphs">Rank in Ordered Dataset</text>
<rect x="377.2" y="210.9" width="59.5" height="3.5" fill="#e6e6e6" stroke="#9a9a9a" stroke-width="0.6"/>
<rect x="378.0" y="211.6" width="2.6" height="2.1" fill="#d6f0c0"/>
<text x="381.4" y="213.3" font-size="2.2" fill="#555" textLength="17.8" lengthAdjust="spacingAndGlyphs">Enrichment profile</text>
<text x="402.2" y="213.3" font-size="2.2" fill="#555" textLength="4.2" lengthAdjust="spacingAndGlyphs">Hits</text>
<text x="412.9" y="213.3" font-size="2.2" fill="#555" textLength="22.0" lengthAdjust="spacingAndGlyphs">Ranking metric scores</text>
<text x="367.04" y="91.90" font-size="6.6" font-weight="normal" fill="#231f20" textLength="16.33" lengthAdjust="spacingAndGlyphs"  stroke="#231f20" stroke-width="0.16">mock</text>
<text x="427.71" y="92.40" font-size="7.2" font-weight="normal" fill="#231f20" textLength="54.08" lengthAdjust="spacingAndGlyphs"  stroke="#231f20" stroke-width="0.16">ASXL1-MT+HHEX</text>
<text x="367.74" y="189.60" font-size="6.6" font-weight="normal" fill="#231f20" textLength="16.13" lengthAdjust="spacingAndGlyphs"  stroke="#231f20" stroke-width="0.16">mock</text>
<text x="428.21" y="189.80" font-size="7.2" font-weight="normal" fill="#231f20" textLength="54.08" lengthAdjust="spacingAndGlyphs"  stroke="#231f20" stroke-width="0.16">ASXL1-MT+HHEX</text>
<text x="375.76" y="377.30" font-size="8.6" font-weight="normal" fill="#231f20" textLength="112.79" lengthAdjust="spacingAndGlyphs"  stroke="#231f20" stroke-width="0.16">HHEX Intergenic (TOP 1000)</text>
<text transform="translate(352.51,399.90) scale(1.206,1.991)" font-size="10" font-weight="bold" fill="#d01f26">T</text>
<text transform="translate(352.39,413.60) scale(1.058,1.890)" font-size="10" font-weight="bold" fill="#2e8a3e">A</text>
<text transform="translate(352.20,418.84) scale(1.086,0.650)" font-size="10" font-weight="bold" fill="#2440a8">C</text>
<text transform="translate(352.22,423.15) scale(1.052,0.537)" font-size="10" font-weight="bold" fill="#f0a418">G</text>
<text transform="translate(360.00,399.90) scale(1.058,1.991)" font-size="10" font-weight="bold" fill="#2e8a3e">A</text>
<text transform="translate(360.12,413.60) scale(1.206,1.890)" font-size="10" font-weight="bold" fill="#d01f26">T</text>
<text transform="translate(359.83,418.84) scale(1.052,0.650)" font-size="10" font-weight="bold" fill="#f0a418">G</text>
<text transform="translate(359.81,423.15) scale(1.086,0.537)" font-size="10" font-weight="bold" fill="#2440a8">C</text>
<text transform="translate(367.73,399.90) scale(1.206,1.991)" font-size="10" font-weight="bold" fill="#d01f26">T</text>
<text transform="translate(367.61,413.60) scale(1.058,1.890)" font-size="10" font-weight="bold" fill="#2e8a3e">A</text>
<text transform="translate(367.44,418.84) scale(1.052,0.650)" font-size="10" font-weight="bold" fill="#f0a418">G</text>
<text transform="translate(367.42,423.15) scale(1.086,0.537)" font-size="10" font-weight="bold" fill="#2440a8">C</text>
<text transform="translate(375.22,399.90) scale(1.058,1.991)" font-size="10" font-weight="bold" fill="#2e8a3e">A</text>
<text transform="translate(375.34,413.60) scale(1.206,1.890)" font-size="10" font-weight="bold" fill="#d01f26">T</text>
<text transform="translate(375.05,418.84) scale(1.052,0.650)" font-size="10" font-weight="bold" fill="#f0a418">G</text>
<text transform="translate(375.03,423.15) scale(1.086,0.537)" font-size="10" font-weight="bold" fill="#2440a8">C</text>
<text transform="translate(382.95,399.90) scale(1.206,1.991)" font-size="10" font-weight="bold" fill="#d01f26">T</text>
<text transform="translate(382.83,413.60) scale(1.058,1.890)" font-size="10" font-weight="bold" fill="#2e8a3e">A</text>
<text transform="translate(382.64,418.84) scale(1.086,0.650)" font-size="10" font-weight="bold" fill="#2440a8">C</text>
<text transform="translate(382.66,423.15) scale(1.052,0.537)" font-size="10" font-weight="bold" fill="#f0a418">G</text>
<text transform="translate(390.56,399.90) scale(1.206,1.991)" font-size="10" font-weight="bold" fill="#d01f26">T</text>
<text transform="translate(390.44,413.60) scale(1.058,1.890)" font-size="10" font-weight="bold" fill="#2e8a3e">A</text>
<text transform="translate(390.27,418.84) scale(1.052,0.650)" font-size="10" font-weight="bold" fill="#f0a418">G</text>
<text transform="translate(390.25,423.15) scale(1.086,0.537)" font-size="10" font-weight="bold" fill="#2440a8">C</text>
<text transform="translate(398.17,399.90) scale(1.206,1.991)" font-size="10" font-weight="bold" fill="#d01f26">T</text>
<text transform="translate(398.05,413.60) scale(1.058,1.890)" font-size="10" font-weight="bold" fill="#2e8a3e">A</text>
<text transform="translate(397.86,418.84) scale(1.086,0.650)" font-size="10" font-weight="bold" fill="#2440a8">C</text>
<text transform="translate(397.88,423.15) scale(1.052,0.537)" font-size="10" font-weight="bold" fill="#f0a418">G</text>
<text transform="translate(405.66,399.90) scale(1.058,1.991)" font-size="10" font-weight="bold" fill="#2e8a3e">A</text>
<text transform="translate(405.78,413.60) scale(1.206,1.890)" font-size="10" font-weight="bold" fill="#d01f26">T</text>
<text transform="translate(405.47,418.84) scale(1.086,0.650)" font-size="10" font-weight="bold" fill="#2440a8">C</text>
<text transform="translate(405.49,423.15) scale(1.052,0.537)" font-size="10" font-weight="bold" fill="#f0a418">G</text>
<text transform="translate(413.27,399.90) scale(1.058,1.991)" font-size="10" font-weight="bold" fill="#2e8a3e">A</text>
<text transform="translate(413.39,413.60) scale(1.206,1.890)" font-size="10" font-weight="bold" fill="#d01f26">T</text>
<text transform="translate(413.10,418.84) scale(1.052,0.650)" font-size="10" font-weight="bold" fill="#f0a418">G</text>
<text transform="translate(413.08,423.15) scale(1.086,0.537)" font-size="10" font-weight="bold" fill="#2440a8">C</text>
<text transform="translate(421.00,399.90) scale(1.206,1.991)" font-size="10" font-weight="bold" fill="#d01f26">T</text>
<text transform="translate(420.88,413.60) scale(1.058,1.890)" font-size="10" font-weight="bold" fill="#2e8a3e">A</text>
<text transform="translate(420.69,418.84) scale(1.086,0.650)" font-size="10" font-weight="bold" fill="#2440a8">C</text>
<text transform="translate(420.71,423.15) scale(1.052,0.537)" font-size="10" font-weight="bold" fill="#f0a418">G</text>
<text transform="translate(428.61,399.90) scale(1.206,1.991)" font-size="10" font-weight="bold" fill="#d01f26">T</text>
<text transform="translate(428.49,413.60) scale(1.058,1.890)" font-size="10" font-weight="bold" fill="#2e8a3e">A</text>
<text transform="translate(428.32,418.84) scale(1.052,0.650)" font-size="10" font-weight="bold" fill="#f0a418">G</text>
<text transform="translate(428.30,423.15) scale(1.086,0.537)" font-size="10" font-weight="bold" fill="#2440a8">C</text>
<text transform="translate(436.10,399.90) scale(1.058,1.991)" font-size="10" font-weight="bold" fill="#2e8a3e">A</text>
<text transform="translate(436.22,413.60) scale(1.206,1.890)" font-size="10" font-weight="bold" fill="#d01f26">T</text>
<text transform="translate(435.91,418.84) scale(1.086,0.650)" font-size="10" font-weight="bold" fill="#2440a8">C</text>
<text transform="translate(435.93,423.15) scale(1.052,0.537)" font-size="10" font-weight="bold" fill="#f0a418">G</text>
<text transform="translate(443.71,399.90) scale(1.058,1.991)" font-size="10" font-weight="bold" fill="#2e8a3e">A</text>
<text transform="translate(443.83,413.60) scale(1.206,1.890)" font-size="10" font-weight="bold" fill="#d01f26">T</text>
<text transform="translate(443.52,418.84) scale(1.086,0.650)" font-size="10" font-weight="bold" fill="#2440a8">C</text>
<text transform="translate(443.54,423.15) scale(1.052,0.537)" font-size="10" font-weight="bold" fill="#f0a418">G</text>
<text transform="translate(451.44,399.90) scale(1.206,1.991)" font-size="10" font-weight="bold" fill="#d01f26">T</text>
<text transform="translate(451.32,413.60) scale(1.058,1.890)" font-size="10" font-weight="bold" fill="#2e8a3e">A</text>
<text transform="translate(451.15,418.84) scale(1.052,0.650)" font-size="10" font-weight="bold" fill="#f0a418">G</text>
<text transform="translate(451.13,423.15) scale(1.086,0.537)" font-size="10" font-weight="bold" fill="#2440a8">C</text>
<text transform="translate(458.93,399.90) scale(1.058,1.991)" font-size="10" font-weight="bold" fill="#2e8a3e">A</text>
<text transform="translate(459.05,413.60) scale(1.206,1.890)" font-size="10" font-weight="bold" fill="#d01f26">T</text>
<text transform="translate(458.74,418.84) scale(1.086,0.650)" font-size="10" font-weight="bold" fill="#2440a8">C</text>
<text transform="translate(458.76,423.15) scale(1.052,0.537)" font-size="10" font-weight="bold" fill="#f0a418">G</text>
<text transform="translate(466.54,399.90) scale(1.058,1.991)" font-size="10" font-weight="bold" fill="#2e8a3e">A</text>
<text transform="translate(466.66,413.60) scale(1.206,1.890)" font-size="10" font-weight="bold" fill="#d01f26">T</text>
<text transform="translate(466.37,418.84) scale(1.052,0.650)" font-size="10" font-weight="bold" fill="#f0a418">G</text>
<text transform="translate(466.35,423.15) scale(1.086,0.537)" font-size="10" font-weight="bold" fill="#2440a8">C</text>
<text transform="translate(474.27,399.90) scale(1.206,1.991)" font-size="10" font-weight="bold" fill="#d01f26">T</text>
<text transform="translate(474.15,413.60) scale(1.058,1.890)" font-size="10" font-weight="bold" fill="#2e8a3e">A</text>
<text transform="translate(473.96,418.84) scale(1.086,0.650)" font-size="10" font-weight="bold" fill="#2440a8">C</text>
<text transform="translate(473.98,423.15) scale(1.052,0.537)" font-size="10" font-weight="bold" fill="#f0a418">G</text>
<text transform="translate(481.88,399.90) scale(1.206,1.991)" font-size="10" font-weight="bold" fill="#d01f26">T</text>
<text transform="translate(481.76,413.60) scale(1.058,1.890)" font-size="10" font-weight="bold" fill="#2e8a3e">A</text>
<text transform="translate(481.59,418.84) scale(1.052,0.650)" font-size="10" font-weight="bold" fill="#f0a418">G</text>
<text transform="translate(481.57,423.15) scale(1.086,0.537)" font-size="10" font-weight="bold" fill="#2440a8">C</text>
<text transform="translate(489.49,399.90) scale(1.206,1.991)" font-size="10" font-weight="bold" fill="#d01f26">T</text>
<text transform="translate(489.37,413.60) scale(1.058,1.890)" font-size="10" font-weight="bold" fill="#2e8a3e">A</text>
<text transform="translate(489.20,418.84) scale(1.052,0.650)" font-size="10" font-weight="bold" fill="#f0a418">G</text>
<text transform="translate(489.18,423.15) scale(1.086,0.537)" font-size="10" font-weight="bold" fill="#2440a8">C</text>
<text transform="translate(496.98,399.90) scale(1.058,1.991)" font-size="10" font-weight="bold" fill="#2e8a3e">A</text>
<text transform="translate(497.10,413.60) scale(1.206,1.890)" font-size="10" font-weight="bold" fill="#d01f26">T</text>
<text transform="translate(496.79,418.84) scale(1.086,0.650)" font-size="10" font-weight="bold" fill="#2440a8">C</text>
<text transform="translate(496.81,423.15) scale(1.052,0.537)" font-size="10" font-weight="bold" fill="#f0a418">G</text>
<text transform="translate(504.59,399.90) scale(1.058,1.991)" font-size="10" font-weight="bold" fill="#2e8a3e">A</text>
<text transform="translate(504.71,413.60) scale(1.206,1.890)" font-size="10" font-weight="bold" fill="#d01f26">T</text>
<text transform="translate(504.42,418.84) scale(1.052,0.650)" font-size="10" font-weight="bold" fill="#f0a418">G</text>
<text transform="translate(504.40,423.15) scale(1.086,0.537)" font-size="10" font-weight="bold" fill="#2440a8">C</text>
<line x1="351.9" x2="351.9" y1="382.3" y2="424.7" stroke="#111" stroke-width="1.3"/>
<line x1="351.29999999999995" x2="513.5" y1="424.0" y2="424.0" stroke="#111" stroke-width="1.4"/>
<line x1="349.29999999999995" x2="351.9" y1="424.00" y2="424.00" stroke="#111" stroke-width="0.8"/>
<line x1="350.7" x2="351.9" y1="420.19" y2="420.19" stroke="#111" stroke-width="0.8"/>
<line x1="350.7" x2="351.9" y1="416.38" y2="416.38" stroke="#111" stroke-width="0.8"/>
<line x1="350.7" x2="351.9" y1="412.57" y2="412.57" stroke="#111" stroke-width="0.8"/>
<line x1="350.7" x2="351.9" y1="408.76" y2="408.76" stroke="#111" stroke-width="0.8"/>
<line x1="349.29999999999995" x2="351.9" y1="404.95" y2="404.95" stroke="#111" stroke-width="0.8"/>
<line x1="350.7" x2="351.9" y1="401.14" y2="401.14" stroke="#111" stroke-width="0.8"/>
<line x1="350.7" x2="351.9" y1="397.33" y2="397.33" stroke="#111" stroke-width="0.8"/>
<line x1="350.7" x2="351.9" y1="393.52" y2="393.52" stroke="#111" stroke-width="0.8"/>
<line x1="350.7" x2="351.9" y1="389.71" y2="389.71" stroke="#111" stroke-width="0.8"/>
<line x1="349.29999999999995" x2="351.9" y1="385.90" y2="385.90" stroke="#111" stroke-width="0.8"/>
<line x1="356.20" x2="356.20" y1="424.0" y2="426.6" stroke="#111" stroke-width="0.8"/>
<line x1="363.81" x2="363.81" y1="424.0" y2="425.2" stroke="#111" stroke-width="0.8"/>
<line x1="371.42" x2="371.42" y1="424.0" y2="425.2" stroke="#111" stroke-width="0.8"/>
<line x1="379.03" x2="379.03" y1="424.0" y2="425.2" stroke="#111" stroke-width="0.8"/>
<line x1="386.64" x2="386.64" y1="424.0" y2="425.2" stroke="#111" stroke-width="0.8"/>
<line x1="394.25" x2="394.25" y1="424.0" y2="426.6" stroke="#111" stroke-width="0.8"/>
<line x1="401.86" x2="401.86" y1="424.0" y2="425.2" stroke="#111" stroke-width="0.8"/>
<line x1="409.47" x2="409.47" y1="424.0" y2="425.2" stroke="#111" stroke-width="0.8"/>
<line x1="417.08" x2="417.08" y1="424.0" y2="425.2" stroke="#111" stroke-width="0.8"/>
<line x1="424.69" x2="424.69" y1="424.0" y2="425.2" stroke="#111" stroke-width="0.8"/>
<line x1="432.30" x2="432.30" y1="424.0" y2="426.6" stroke="#111" stroke-width="0.8"/>
<line x1="439.91" x2="439.91" y1="424.0" y2="425.2" stroke="#111" stroke-width="0.8"/>
<line x1="447.52" x2="447.52" y1="424.0" y2="425.2" stroke="#111" stroke-width="0.8"/>
<line x1="455.13" x2="455.13" y1="424.0" y2="425.2" stroke="#111" stroke-width="0.8"/>
<line x1="462.74" x2="462.74" y1="424.0" y2="425.2" stroke="#111" stroke-width="0.8"/>
<line x1="470.35" x2="470.35" y1="424.0" y2="426.6" stroke="#111" stroke-width="0.8"/>
<line x1="477.96" x2="477.96" y1="424.0" y2="425.2" stroke="#111" stroke-width="0.8"/>
<line x1="485.57" x2="485.57" y1="424.0" y2="425.2" stroke="#111" stroke-width="0.8"/>
<line x1="493.18" x2="493.18" y1="424.0" y2="425.2" stroke="#111" stroke-width="0.8"/>
<line x1="500.79" x2="500.79" y1="424.0" y2="425.2" stroke="#111" stroke-width="0.8"/>
<line x1="508.40" x2="508.40" y1="424.0" y2="426.6" stroke="#111" stroke-width="0.8"/>
<text x="336.55" y="387.70" font-size="6.2" font-weight="normal" fill="#231f20" textLength="10.00" lengthAdjust="spacingAndGlyphs"  stroke="#231f20" stroke-width="0.16">1.0</text>
<text x="336.55" y="406.60" font-size="6.2" font-weight="normal" fill="#231f20" textLength="10.00" lengthAdjust="spacingAndGlyphs"  stroke="#231f20" stroke-width="0.16">0.5</text>
<text x="336.55" y="425.80" font-size="6.2" font-weight="normal" fill="#231f20" textLength="10.00" lengthAdjust="spacingAndGlyphs"  stroke="#231f20" stroke-width="0.16">0.0</text>
<text x="355.30" y="435.9" font-size="6.4" fill="#231f20" text-anchor="middle">-10</text>
<text x="393.35" y="435.9" font-size="6.4" fill="#231f20" text-anchor="middle">-5</text>
<text x="432.30" y="435.9" font-size="6.4" fill="#231f20" text-anchor="middle">0</text>
<text x="470.35" y="435.9" font-size="6.4" fill="#231f20" text-anchor="middle">5</text>
<text x="508.40" y="435.9" font-size="6.4" fill="#231f20" text-anchor="middle">10</text>
<text x="405.86" y="448.20" font-size="8.6" font-weight="normal" fill="#231f20" textLength="53.49" lengthAdjust="spacingAndGlyphs"  stroke="#231f20" stroke-width="0.16">Summit-centered</text>
<text transform="translate(331.7,419.4) rotate(-90)" font-size="9.4" fill="#231f20" stroke="#231f20" stroke-width="0.1" textLength="32.7" lengthAdjust="spacingAndGlyphs">Probability</text>
<circle cx="58.3" cy="483.05" r="23.2" fill="#a5002d"/>
<circle cx="106.4" cy="483" r="42.3" fill="#e8b925"/>
<clipPath id="cp58"><circle cx="58.3" cy="483.05" r="23.2"/></clipPath>
<circle cx="106.4" cy="483" r="42.3" fill="#e08c1a" clip-path="url(#cp58)"/>
<circle cx="58.3" cy="483.05" r="23.2" fill="none" stroke="#111" stroke-width="1"/>
<circle cx="106.4" cy="483" r="42.3" fill="none" stroke="#111" stroke-width="1"/>
<circle cx="220.95" cy="477.7" r="23.3" fill="#69a543"/>
<circle cx="269" cy="477.95" r="42.5" fill="#e8b925"/>
<clipPath id="cp221"><circle cx="220.95" cy="477.7" r="23.3"/></clipPath>
<circle cx="269" cy="477.95" r="42.5" fill="#6eaae0" clip-path="url(#cp221)"/>
<circle cx="220.95" cy="477.7" r="23.3" fill="none" stroke="#111" stroke-width="1"/>
<circle cx="269" cy="477.95" r="42.5" fill="none" stroke="#111" stroke-width="1"/>
<text x="66.51" y="485.30" font-size="7.2" font-weight="normal" fill="#231f20" textLength="10.98" lengthAdjust="spacingAndGlyphs"  stroke="#231f20" stroke-width="0.16">301</text>
<text x="229.71" y="480.10" font-size="7.2" font-weight="normal" fill="#231f20" textLength="11.48" lengthAdjust="spacingAndGlyphs"  stroke="#231f20" stroke-width="0.16">400</text>
<text x="6.84" y="436.90" font-size="6.6" font-weight="normal" fill="#231f20" textLength="57.63" lengthAdjust="spacingAndGlyphs"  stroke="#231f20" stroke-width="0.16">upregurated genes</text>
<text x="22.24" y="445.00" font-size="6.6" font-weight="normal" fill="#231f20" textLength="27.13" lengthAdjust="spacingAndGlyphs"  stroke="#231f20" stroke-width="0.16">by HHEX</text>
<text x="28.64" y="455.10" font-size="6.6" font-weight="normal" fill="#231f20" textLength="14.23" lengthAdjust="spacingAndGlyphs"  stroke="#231f20" stroke-width="0.16">1424</text>
<text x="166.79" y="434.80" font-size="6.6" font-weight="normal" fill="#231f20" textLength="66.18" lengthAdjust="spacingAndGlyphs"  stroke="#231f20" stroke-width="0.16">downregurated genes</text>
<text x="185.94" y="442.60" font-size="6.6" font-weight="normal" fill="#231f20" textLength="27.53" lengthAdjust="spacingAndGlyphs"  stroke="#231f20" stroke-width="0.16">by HHEX</text>
<text x="192.44" y="452.70" font-size="6.6" font-weight="normal" fill="#231f20" textLength="14.53" lengthAdjust="spacingAndGlyphs"  stroke="#231f20" stroke-width="0.16">1433</text>
<text x="140.04" y="524.00" font-size="6.6" font-weight="normal" fill="#231f20" textLength="14.93" lengthAdjust="spacingAndGlyphs"  stroke="#231f20" stroke-width="0.16">5202</text>
<text x="116.24" y="534.50" font-size="6.6" font-weight="normal" fill="#231f20" textLength="63.03" lengthAdjust="spacingAndGlyphs"  stroke="#231f20" stroke-width="0.16">HHEX ChIP-seq peak</text>
<text x="119.14" y="541.70" font-size="6.6" font-weight="normal" fill="#231f20" textLength="56.83" lengthAdjust="spacingAndGlyphs"  stroke="#231f20" stroke-width="0.16">in promoter region</text>
<text x="304.74" y="517.00" font-size="6.6" font-weight="normal" fill="#231f20" textLength="14.93" lengthAdjust="spacingAndGlyphs"  stroke="#231f20" stroke-width="0.16">5202</text>
<text x="280.84" y="527.40" font-size="6.6" font-weight="normal" fill="#231f20" textLength="62.93" lengthAdjust="spacingAndGlyphs"  stroke="#231f20" stroke-width="0.16">HHEX ChIP-seq peak</text>
<text x="283.74" y="534.60" font-size="6.6" font-weight="normal" fill="#231f20" textLength="56.73" lengthAdjust="spacingAndGlyphs"  stroke="#231f20" stroke-width="0.16">in promoter region</text>
<rect x="0.5" y="0.5" width="519" height="550" fill="none" stroke="#000" stroke-width="1"/>
<rect x="0" y="549.6" width="520" height="1.4" fill="#000"/>
</svg></div></body></html>
